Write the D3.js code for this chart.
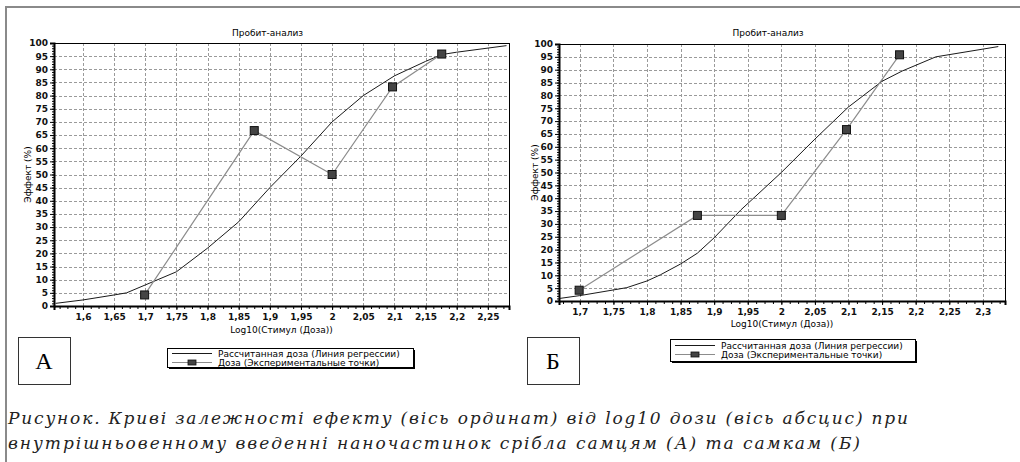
<!DOCTYPE html>
<html>
<head>
<meta charset="utf-8">
<script src="https://cdn.jsdelivr.net/npm/d3@7"></script>
<style>
  body { margin: 0; background: #fff; }
  svg { display: block; }
</style>
</head>
<body>
<div id="chart"></div>
<script>
// ---------------- data ----------------
var chartTitle = "Пробит-анализ";
var xTitle = "Log10(Стимул (Доза))";
var yTitle = "Эффект (%)";
var legendLabels = ["Рассчитанная доза (Линия регрессии)", "Доза (Экспериментальные точки)"];

// experimental points (log10 of dose, % effect)
var doseLog = [1.699, 1.875, 2.0, 2.097, 2.176];
var effectA = [4.2, 66.7, 50.0, 83.3, 95.8];
var effectB = [4.2, 33.3, 33.3, 66.7, 95.8];

// regression line (probit fit)
var fitLogA = [1.556, 1.6, 1.65, 1.67, 1.7, 1.75, 1.8, 1.85, 1.9, 1.95, 2.0, 2.05, 2.1, 2.12, 2.15, 2.176, 2.2, 2.28];
var fitA    = [1, 2.3, 4.2, 5, 8, 13, 22, 32, 45, 57, 70, 80, 87.5, 89.7, 93, 95.6, 96.5, 99];
var fitLogB = [1.67, 1.7, 1.75, 1.77, 1.8, 1.82, 1.85, 1.875, 1.9, 1.94, 2.0, 2.05, 2.1, 2.15, 2.18, 2.23, 2.323];
var fitB    = [1, 2.1, 4.3, 5.2, 7.8, 10.2, 14.4, 18.6, 24.6, 35.5, 50, 63, 75.5, 85.5, 89.5, 95, 99];

// tick labels
var xTicksA = [1.6, 1.65, 1.7, 1.75, 1.8, 1.85, 1.9, 1.95, 2.0, 2.05, 2.1, 2.15, 2.2, 2.25];
var xTicksB = [1.7, 1.75, 1.8, 1.85, 1.9, 1.95, 2.0, 2.05, 2.1, 2.15, 2.2, 2.25, 2.3];
var yTicks = d3.range(0, 101, 5);

var panelLetters = ["А", "Б"];
var captionLines = [
  "Рисунок. Криві залежності ефекту (вісь ординат) від log10 дози (вісь абсцис) при",
  "внутрішньовенному введенні наночастинок срібла самцям (А) та самкам (Б)"
];

// ---------------- svg ----------------
var W = 1020, H = 462;
var svg = d3.select("#chart").append("svg")
  .attr("width", W).attr("height", H);

svg.append("rect").attr("width", W).attr("height", H).attr("fill", "#fff");

// outer frame (top + left)
svg.append("line").attr("x1", 5).attr("x2", W).attr("y1", 7).attr("y2", 7)
  .attr("stroke", "#8a8a8a").attr("stroke-width", 2);
svg.append("line").attr("x1", 6).attr("x2", 6).attr("y1", 6).attr("y2", H)
  .attr("stroke", "#8a8a8a").attr("stroke-width", 2);

var fmt = function(d) { return d3.format("~g")(d).replace(".", ","); };

function drawPanel(p) {
  var x = d3.scaleLinear().domain(p.xDomain).range([p.left, p.right]);
  var y = d3.scaleLinear().domain([0, 100]).range([p.bottom, p.top]);
  var g = svg.append("g");

  // grid
  g.selectAll(".vg").data(p.xTicks).enter().append("line")
    .attr("x1", function(d) { return Math.round(x(d)) + 0.5; })
    .attr("x2", function(d) { return Math.round(x(d)) + 0.5; })
    .attr("y1", p.top).attr("y2", p.bottom)
    .attr("stroke", "#9a9a9a").attr("stroke-dasharray", "3,2");
  g.selectAll(".hg").data(yTicks.slice(1, -1)).enter().append("line")
    .attr("y1", function(d) { return Math.round(y(d)) + 0.5; })
    .attr("y2", function(d) { return Math.round(y(d)) + 0.5; })
    .attr("x1", p.left).attr("x2", p.right)
    .attr("stroke", "#9a9a9a").attr("stroke-dasharray", "3,2");

  // frame: thin top/right, thick left/bottom
  g.append("rect").attr("x", p.left + 0.5).attr("y", p.top + 0.5)
    .attr("width", p.right - p.left).attr("height", p.bottom - p.top)
    .attr("fill", "none").attr("stroke", "#000").attr("stroke-width", 1);

  // y axis
  var yAxis = d3.axisLeft(y).tickValues(yTicks).tickSize(4).tickFormat(fmt);
  var ya = g.append("g").attr("transform", "translate(" + p.left + ",0)").call(yAxis);
  ya.select(".domain").attr("stroke-width", 2);
  ya.selectAll("text").attr("font-family", "DejaVu Sans").attr("font-size", "9px")
    .attr("font-weight", "bold").attr("fill", "#111").attr("x", -6);
  g.append("g").attr("transform", "translate(" + p.left + ",0)")
    .call(d3.axisLeft(y).tickValues(d3.range(0, 101, 1)).tickSize(2).tickFormat(""))
    .select(".domain").remove();

  // x axis
  var xAxis = d3.axisBottom(x).tickValues(p.xTicks).tickSize(4).tickFormat(fmt);
  var xa = g.append("g").attr("transform", "translate(0," + p.bottom + ")").call(xAxis);
  xa.select(".domain").attr("stroke-width", 2);
  xa.selectAll("text").attr("font-family", "DejaVu Sans").attr("font-size", "9px")
    .attr("font-weight", "bold").attr("fill", "#111").attr("y", p.tickLabelDy);
  var minor = d3.range(Math.ceil(p.xDomain[0] / 0.0125), Math.floor(p.xDomain[1] / 0.0125) + 1)
    .map(function(i) { return i * 0.0125; });
  g.append("g").attr("transform", "translate(0," + p.bottom + ")")
    .call(d3.axisBottom(x).tickValues(minor).tickSize(3).tickFormat(""))
    .select(".domain").remove();

  // titles
  g.append("text").attr("x", (p.left + p.right) / 2 - 14).attr("y", 36)
    .attr("text-anchor", "middle").attr("font-family", "DejaVu Sans").attr("font-size", "9px")
    .text(chartTitle);
  g.append("text").attr("x", (p.left + p.right) / 2).attr("y", p.xTitleY)
    .attr("text-anchor", "middle").attr("font-family", "DejaVu Sans").attr("font-size", "9px")
    .text(xTitle);
  g.append("text").attr("transform", "translate(" + p.yTitleX + "," + (p.top + p.bottom) / 2 + ") rotate(-90)")
    .attr("text-anchor", "middle").attr("font-family", "DejaVu Sans").attr("font-size", "9px")
    .text(yTitle);

  // regression line
  var line = d3.line().x(function(d) { return x(d[0]); }).y(function(d) { return y(d[1]); });
  g.append("path").datum(d3.zip(p.fitX, p.fitY)).attr("d", line)
    .attr("fill", "none").attr("stroke", "#1a1a1a").attr("stroke-width", 1);

  // experimental points
  var pts = d3.zip(doseLog, p.effect);
  g.append("path").datum(pts).attr("d", line)
    .attr("fill", "none").attr("stroke", "#8c8c8c").attr("stroke-width", 1.2);
  g.selectAll(".pt").data(pts).enter().append("rect")
    .attr("x", function(d) { return x(d[0]) - 4; })
    .attr("y", function(d) { return y(d[1]) - 4; })
    .attr("width", 8).attr("height", 8)
    .attr("fill", "#444").attr("stroke", "#111").attr("stroke-width", 1);

  // legend
  var L = p.legend;
  g.append("rect").attr("x", L.x + 2).attr("y", L.y + 2).attr("width", L.w).attr("height", L.h).attr("fill", "#000");
  g.append("rect").attr("x", L.x + 0.5).attr("y", L.y + 0.5).attr("width", L.w).attr("height", L.h)
    .attr("fill", "#fff").attr("stroke", "#000");
  legendLabels.forEach(function(lab, i) {
    var ly = L.y + L.row0 + i * 9;
    g.append("line").attr("x1", L.x + 5).attr("x2", L.x + 45).attr("y1", ly + 0.5).attr("y2", ly + 0.5)
      .attr("stroke", i === 0 ? "#1a1a1a" : "#8c8c8c");
    if (i === 1) {
      g.append("rect").attr("x", L.x + 21).attr("y", ly - 2).attr("width", 8).attr("height", 5)
        .attr("fill", "#444").attr("stroke", "#111").attr("stroke-width", 0.8);
    }
    g.append("text").attr("x", L.x + 51).attr("y", ly + 3.5)
      .attr("font-family", "DejaVu Sans").attr("font-size", "9px").text(lab);
  });

  // panel letter box
  g.append("rect").attr("x", p.letterX + 0.5).attr("y", 337.5).attr("width", 52).attr("height", 47)
    .attr("fill", "#fff").attr("stroke", "#333");
  g.append("text").attr("x", p.letterX + 26).attr("y", 369)
    .attr("text-anchor", "middle").attr("font-family", "Liberation Serif").attr("font-size", "24px")
    .text(p.letter);
}

drawPanel({
  left: 54, right: 509, top: 43, bottom: 306,
  xDomain: [1.5535, 2.284], xTicks: xTicksA,
  fitX: fitLogA, fitY: fitA, effect: effectA,
  tickLabelDy: 8, xTitleY: 333, yTitleX: 31,
  legend: { x: 167, y: 348, w: 246, h: 19, row0: 5 },
  letterX: 18, letter: panelLetters[0]
});
drawPanel({
  left: 559, right: 1005, top: 44, bottom: 301,
  xDomain: [1.669, 2.333], xTicks: xTicksB,
  fitX: fitLogB, fitY: fitB, effect: effectB,
  tickLabelDy: 8, xTitleY: 327, yTitleX: 538,
  legend: { x: 670, y: 339, w: 245, h: 22, row0: 6 },
  letterX: 527, letter: panelLetters[1]
});

// caption
var capW = [900, 852];
captionLines.forEach(function(t, i) {
  svg.append("text").attr("x", 8).attr("y", 424 + i * 25)
    .attr("font-family", "DejaVu Serif").attr("font-style", "italic").attr("font-size", "17px")
    .attr("fill", "#222")
    .attr("textLength", capW[i]).attr("lengthAdjust", "spacing")
    .text(t);
});
</script>
</body>
</html>
